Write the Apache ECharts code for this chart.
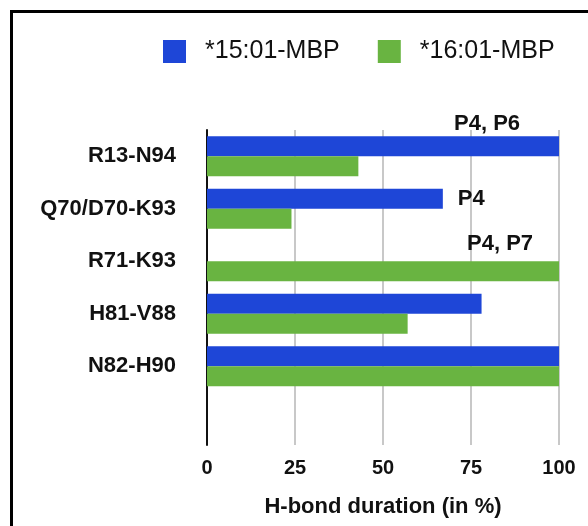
<!DOCTYPE html>
<html>
<head>
<meta charset="utf-8">
<script src="https://cdn.jsdelivr.net/npm/echarts@6/dist/echarts.min.js"></script>
<style>
	body { margin: 0; background: #fff; }
	#myChart { width: 588px; height: 526px; }
</style>
</head>
<body>
<div id="myChart"></div>
<script>
// 数据
var categories = ['R13-N94', 'Q70/D70-K93', 'R71-K93', 'H81-V88', 'N82-H90', '']
var seriesNames = ['*15:01-MBP', '*16:01-MBP']
var mbp1501 = [100, 67, 0, 78, 100]
var mbp1601 = [43, 24, 100, 57, 100]
var notes1501 = ['P4, P6', 'P4', '', '', '']
var notes1601 = ['', '', 'P4, P7', '', '']
var xTicks = [0, 25, 50, 75, 100]

var font = 'Liberation Sans, Arial, Helvetica, sans-serif'

// 标注样式
var noteLabel = {
	'P4, P6': { position: [247, -23] },
	'P4': { position: 'right', distance: 15, offset: [0, 0] },
	'P4, P7': { position: [260, -28] }
}

function withNotes(values, notes) {
	return values.map(function (v, i) {
		if (!notes[i]) return v
		return {
			value: v,
			label: Object.assign({
				show: true,
				formatter: notes[i],
				color: '#111',
				fontFamily: font,
				fontWeight: 'bold',
				fontSize: 22
			}, noteLabel[notes[i]])
		}
	})
}

var myChart = echarts.init(document.getElementById('myChart'))
var option = {
	animation: false,
	backgroundColor: '#fff',
	textStyle: { fontFamily: font },
	graphic: [{
		type: 'polyline',
		shape: { points: [[11.5, 526], [11.5, 11.5], [588, 11.5]] },
		style: { stroke: '#000', lineWidth: 3, fill: null }
	}],
	legend: {
		left: 158,
		top: 34,
		itemWidth: 23,
		itemHeight: 23,
		itemGap: 38,
		icon: 'rect',
		textStyle: {
			fontSize: 25,
			color: '#111',
			fontFamily: font,
			padding: [0, 0, 0, 14]
		},
		data: seriesNames
	},
	grid: {
		left: 207,
		right: 29,
		top: 130,
		bottom: 81,
		containLabel: false
	},
	xAxis: {
		type: 'value',
		min: xTicks[0],
		max: xTicks[xTicks.length - 1],
		interval: 25,
		name: 'H-bond duration (in %)',
		nameLocation: 'middle',
		nameGap: 51,
		nameTextStyle: { fontSize: 22, fontWeight: 'bold', color: '#111', fontFamily: font },
		axisLine: { show: false },
		axisTick: { show: false },
		axisLabel: { fontSize: 20, fontWeight: 'bold', color: '#111', margin: 13, fontFamily: font },
		splitLine: { show: true, lineStyle: { color: '#c8c8c8', width: 2 } }
	},
	yAxis: {
		type: 'category',
		inverse: true,
		data: categories,
		axisLine: { show: true, lineStyle: { color: '#111', width: 2 } },
		axisTick: { show: false },
		axisLabel: { fontSize: 22, fontWeight: 'bold', color: '#111', margin: 31, fontFamily: font },
		splitLine: { show: false }
	},
	series: [{
		name: seriesNames[0],
		type: 'bar',
		barWidth: 20,
		barGap: '0%',
		itemStyle: { color: '#1e46d7' },
		data: withNotes(mbp1501, notes1501)
	}, {
		name: seriesNames[1],
		type: 'bar',
		barWidth: 20,
		barGap: '0%',
		itemStyle: { color: '#69b441' },
		data: withNotes(mbp1601, notes1601)
	}]
}
myChart.setOption(option)
</script>
</body>
</html>
